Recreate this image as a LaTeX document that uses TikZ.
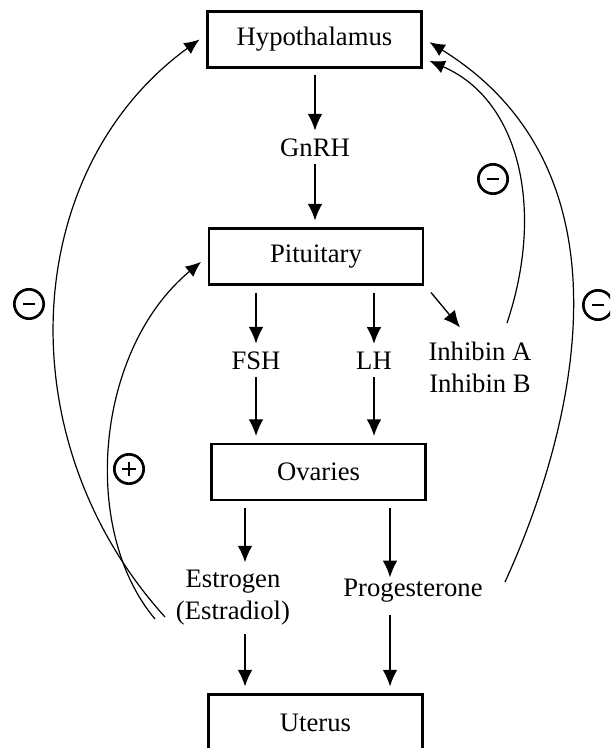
\documentclass[tikz,border=0pt]{standalone}
\usepackage{fontspec}
\setmainfont{Liberation Serif}
\usetikzlibrary{arrows.meta}

\begin{document}
\begin{tikzpicture}[x=0.75pt, y=-0.75pt, font={\fontsize{20}{24}\selectfont},
  box/.style={draw, line width=2.2pt, minimum width=160.5pt, minimum height=42pt, outer sep=6pt},
  lbl/.style={inner sep=0pt, outer sep=6pt, align=center},
  arr/.style={-{Latex[length=12.5pt,width=11pt]}, line width=1pt},
  fb/.style={-{Latex[length=11.5pt,width=10pt]}, line width=0.9pt},
  sign/.style={circle, draw, line width=2pt, minimum size=22pt, inner sep=0pt},
  minus/.style={sign, path picture={
    \draw[line width=2pt] ([xshift=-4.2pt]path picture bounding box.center) -- ([xshift=4.2pt]path picture bounding box.center);}},
  plus/.style={sign, path picture={
    \draw[line width=2pt] ([xshift=-5.5pt]path picture bounding box.center) -- ([xshift=5.5pt]path picture bounding box.center);
    \draw[line width=2pt] ([yshift=-5.5pt]path picture bounding box.center) -- ([yshift=5.5pt]path picture bounding box.center);}}]

\clip (0,0) rectangle (610,748);

% Define the organ boxes in a loop
\foreach \name/\txt/\x/\y in {hypo/Hypothalamus/314.5/39.5, pit/Pituitary/316/256.5, ova/Ovaries/318.5/472, ute/Uterus/315.5/722.5} {
    \node[box] (\name) at (\x,\y) {\txt};
}

% Hormone labels
\node[lbl] (gnrh) at (315,147.5) {GnRH};
\node[lbl] (fsh) at (256,360.5) {FSH};
\node[lbl] (lh) at (374,360.5) {LH};
\node[lbl] (inh) at (480,367.5) {Inhibin A\\Inhibin B};
\node[lbl] (est) at (233,598) {Estrogen\\(Estradiol)};
\node[lbl, text height=8pt, text depth=8pt] (pro) at (413,596) {Progesterone};

\coordinate (estcol) at (245,0);
\coordinate (procol) at (390,0);
\coordinate (estout) at (165,617);
\coordinate (estin) at (155,619);
\coordinate (inhout) at (507,323);
\coordinate (proout) at (505,582);

% Define the straight arrows in a loop
\foreach \src/\dst/\col in {hypo/gnrh/gnrh, gnrh/pit/gnrh, pit/fsh/fsh, fsh/ova/fsh, pit/lh/lh, lh/ova/lh, ova/est/estcol, est/ute/estcol, ova/pro/procol, pro/ute/procol} {
    \draw[arr] (\src.south -| \col) -- (\dst.north -| \col);
}
\draw[arr] (pit.south east) -- ([xshift=-15pt,yshift=5pt]inh.north);

% Feedback loops
\draw[fb] (estout) .. controls (5,440) and (20,170) .. (hypo.west);
\draw[fb] (estin) .. controls (80,530) and (95,350) .. ([yshift=-4pt]pit.west);
\draw[fb] (inhout) .. controls (545,210) and (520,100) .. ([yshift=-16pt]hypo.east);
\draw[fb] (proout) .. controls (570,440) and (644,175) .. ([yshift=-2pt]hypo.east);

\node[minus] (neg1) at (29,304) {};
\node[plus] (pos1) at (129,469) {};
\node[minus] (neg2) at (493,179) {};
\node[minus] (neg3) at (598,305) {};

\end{tikzpicture}
\end{document}
